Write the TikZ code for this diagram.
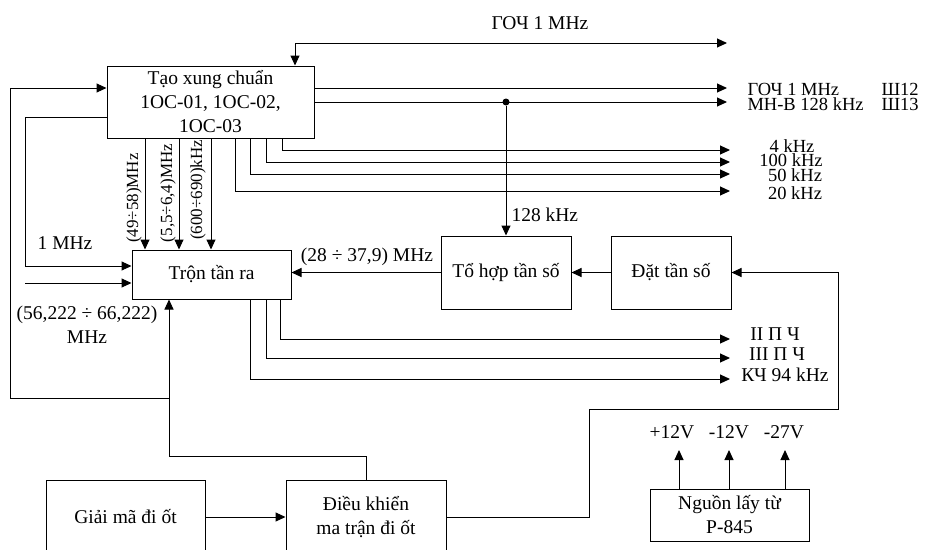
\documentclass[tikz,border=0pt]{standalone}
\usepackage{fontspec}
\setmainfont{Liberation Serif}
\usetikzlibrary{arrows.meta}
\newcommand{\mydfont}{\fontsize{19.5}{24}\selectfont}
\newcommand{\myvfont}{\fontsize{17}{20}\selectfont}
\newcommand{\mytfont}{\fontsize{18.5}{20}\selectfont}
\begin{document}
\begin{tikzpicture}[x=1pt,y=-1pt,
  line width=1pt,
  tip/.style={-{Triangle[length=10pt,width=9pt]}},
  blk/.style={draw,rectangle,inner sep=0pt,align=center,font=\mydfont},
  lbl/.style={inner sep=0pt,font=\mydfont,align=center},
  tlbl/.style={inner sep=0pt,font=\mytfont,text height=12pt,text depth=0pt},
  vlbl/.style={inner sep=0pt,font=\myvfont,rotate=90},
  dot/.style={circle,fill,inner sep=0pt,minimum size=7pt}]
\useasboundingbox (0,0) rectangle (931,549);

% blocks
\node[blk,minimum width=207pt,minimum height=72pt] (tao) at (210.5,102) {Tạo xung chuẩn\\1OC-01, 1OC-02,\\1OC-03};
\node[blk,minimum width=159pt,minimum height=49pt] (tron) at (211.5,274.5) {Trộn tần ra};
\node[blk,minimum width=130pt,minimum height=73pt] (tohop) at (506,272.5) {Tổ hợp tần số};
\node[blk,minimum width=120pt,minimum height=73pt] (dat) at (671,272.5) {Đặt tần số};
\node[blk,minimum width=159pt,minimum height=74pt] (giai) at (125.5,517) {Giải mã đi ốt};
\node[blk,minimum width=160pt,minimum height=74pt] (dieu) at (366,517) {Điều khiển\\ma trận đi ốt};
\node[blk,minimum width=159pt,minimum height=52pt] (nguon) at (729.5,515) {Nguồn lấy từ\\P-845};

% top line
\coordinate (topL) at (295,43);
\coordinate (topR) at (727,43);
\draw[tip] (topL) -- (topR);
\draw[tip] (topL) -- (topL |- tao.north);
\node[lbl] (lgoch) at (540,23) {ГОЧ 1 MHz};

% right outputs of tao
\coordinate (o1) at (727,88);
\coordinate (o2) at (727,102);
\draw[tip] ([yshift=14pt]tao.east) -- (o1);
\draw[tip] (tao.east) -- (o2);
\node[tlbl,anchor=base west] (lo1) at (747,95) {ГОЧ 1 MHz};
\node[tlbl,anchor=base west] (lo2) at (747,110) {МН-В 128 kHz};
\node[tlbl,anchor=base west] (ls1) at (881,95) {Ш12};
\node[tlbl,anchor=base west] (ls2) at (881,110) {Ш13};
\node[dot] (d1) at (506,102) {};
\draw[tip] (d1) -- (tohop.north);
\node[lbl,anchor=mid west] (l128) at (511,219) {128 kHz};

% lower outputs of tao
\coordinate (a1) at (730,150);
\coordinate (a2) at (730,162);
\coordinate (a3) at (730,174);
\coordinate (a4) at (730,191);
\draw[tip] ([xshift=71.5pt]tao.south) |- (a1);
\draw[tip] ([xshift=55.5pt]tao.south) |- (a2);
\draw[tip] ([xshift=39.5pt]tao.south) |- (a3);
\draw[tip] ([xshift=24.5pt]tao.south) |- (a4);
\node[tlbl,anchor=base] (la1) at (792,152) {4 kHz};
\node[tlbl,anchor=base] (la2) at (791,166) {100 kHz};
\node[tlbl,anchor=base] (la3) at (795,181) {50 kHz};
\node[tlbl,anchor=base] (la4) at (795,199) {20 kHz};

% tao -> tron verticals
\coordinate (v1) at (145,0);
\coordinate (v2) at (179,0);
\coordinate (v3) at (211,0);
\draw[tip] (tao.south -| v1) -- (tron.north -| v1);
\draw[tip] (tao.south -| v2) -- (tron.north -| v2);
\draw[tip] (tao.south -| v3) -- (tron.north -| v3);
\node[vlbl] (lv1) at (134,198) {(49÷58)MHz};
\node[vlbl] (lv2) at (168,193) {(5,5÷6,4)MHz};
\node[vlbl] (lv3) at (198,190) {(600÷690)kHz};

% left loops
\coordinate (j1) at (169,456);
\coordinate (j2) at (169,398);
\coordinate (l1) at (10,398);
\draw[tip] (dieu.north) |- (j1) -- (tron.south -| j1);
\draw[tip] (j2) -- (l1) |- ([yshift=14pt]tao.west);
\coordinate (l2) at (25,117);
\draw[tip] ([yshift=-15pt]tao.west) -- (l2) |- ([yshift=8.5pt]tron.west);
\node[lbl] (l1m) at (65,243) {1 MHz};
\coordinate (in2) at (25,283);
\draw[tip] (in2) -- ([yshift=-8.5pt]tron.west);
\node[lbl] (l56) at (87,325) {(56,222 ÷ 66,222)\\MHz};

% middle chain
\draw[tip] (tohop.west) -- (tohop.west -| tron.east);
\node[lbl] (l28) at (367,257) {(28 ÷ 37,9) MHz};
\draw[tip] (dat.west) -- (tohop.east);

% right loop
\coordinate (r1) at (589,409);
\coordinate (r2) at (838,272.5);
\draw[tip] (dieu.east) -| (r1) -| (r2) -- (dat.east);

% tron outputs
\coordinate (b1) at (730,339);
\coordinate (b2) at (730,358);
\coordinate (b3) at (730,379);
\draw[tip] ([xshift=68.5pt]tron.south) |- (b1);
\draw[tip] ([xshift=54.5pt]tron.south) |- (b2);
\draw[tip] ([xshift=38.5pt]tron.south) |- (b3);
\node[lbl,anchor=mid] (lb1) at (775,338) {II П Ч};
\node[lbl,anchor=mid] (lb2) at (777,358) {III П Ч};
\node[lbl,anchor=mid] (lb3) at (785,379) {КЧ 94 kHz};

% bottom
\draw[tip] (giai.east) -- (dieu.west);
\coordinate (p1) at (679,450);
\coordinate (p2) at (729,450);
\coordinate (p3) at (785,450);
\draw[tip] (nguon.north -| p1) -- (p1);
\draw[tip] (nguon.north -| p2) -- (p2);
\draw[tip] (nguon.north -| p3) -- (p3);
\node[lbl,anchor=mid] (lp1) at (672,436) {+12V};
\node[lbl,anchor=mid] (lp2) at (729,436) {-12V};
\node[lbl,anchor=mid] (lp3) at (784,436) {-27V};
\end{tikzpicture}
\end{document}
